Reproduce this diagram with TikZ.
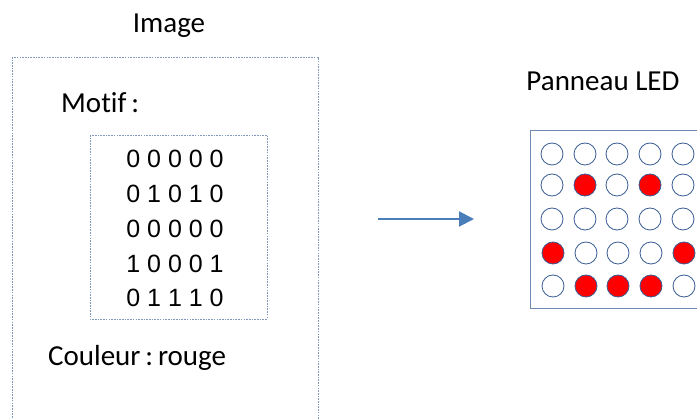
\documentclass[tikz,border=0pt]{standalone}
\usepackage{fontspec}
\usetikzlibrary{arrows.meta}
\setmainfont[Ligatures={NoCommon}]{Carlito}
\newfontfamily\digitfont{Liberation Sans}
\definecolor{boxblue}{HTML}{7F98BC}
\definecolor{arrowblue}{HTML}{4A7EBB}
\definecolor{panelblue}{HTML}{6F89B2}
\definecolor{ledline}{HTML}{3A5C93}
\definecolor{ledred}{HTML}{FF0000}
\begin{document}
\begin{tikzpicture}[x=1pt,y=-1pt,
  label/.style={inner sep=0pt, font=\fontsize{29}{34}\selectfont},
  digits/.style={inner sep=0pt, font=\digitfont\fontsize{25}{30}\selectfont},
  dotbox/.style={draw=boxblue, line width=0.9pt, dash pattern=on 1.6pt off 1.1pt},
  ledoff/.style={circle, draw=ledline, line width=0.8pt, fill=white, minimum size=22pt, inner sep=0pt},
  ledon/.style={circle, draw=ledline, line width=0.8pt, fill=ledred, minimum size=22pt, inner sep=0pt},
  conn/.style={draw=arrowblue, line width=2pt, -{Triangle[length=15pt,width=15pt]}}]
\useasboundingbox (0,0) rectangle (697,419);
\clip (0,0) rectangle (697,419);
\fill[white] (0,0) rectangle (697,419);
% Image block
\node[label] (imgtitle) at (169,26) {Image};
\draw[dotbox] (12,57) rectangle (318,440);
\node[label, anchor=west] (motif) at (61,103) {Motif\,:};
\draw[dotbox] (90,135) rectangle (267,319);
\node[digits] (r1) at (175,159) {0 0 0 0 0};
\node[digits] (r2) at (175,194) {0 1 0 1 0};
\node[digits] (r3) at (175,229) {0 0 0 0 0};
\node[digits] (r4) at (175,264) {1 0 0 0 1};
\node[digits] (r5) at (175,298) {0 1 1 1 0};
\node[label, anchor=west] (couleur) at (48,358) {Couleur\,:\,rouge};
% Arrow
\coordinate (astart) at (378,219);
\coordinate (aend) at (474,219);
\draw[conn] (astart) -- (aend);
% LED panel
\node[label] (paneltitle) at (603,81) {Panneau LED};
\draw[draw=panelblue, line width=1pt] (530,131) rectangle (720,309);
% row 1
\node[ledoff] (l11) at (552,154) {};
\node[ledoff] (l12) at (585,154) {};
\node[ledoff] (l13) at (617,154) {};
\node[ledoff] (l14) at (650,154) {};
\node[ledoff] (l15) at (683,154) {};
% row 2
\node[ledoff] (l21) at (552,185) {};
\node[ledon]  (l22) at (585,185) {};
\node[ledoff] (l23) at (617,185) {};
\node[ledon]  (l24) at (650,185) {};
\node[ledoff] (l25) at (683,185) {};
% row 3
\node[ledoff] (l31) at (552,219) {};
\node[ledoff] (l32) at (585,219) {};
\node[ledoff] (l33) at (617,219) {};
\node[ledoff] (l34) at (650,219) {};
\node[ledoff] (l35) at (683,219) {};
% row 4
\node[ledon]  (l41) at (553,253) {};
\node[ledoff] (l42) at (586,253) {};
\node[ledoff] (l43) at (618,253) {};
\node[ledoff] (l44) at (651,253) {};
\node[ledon]  (l45) at (684,253) {};
% row 5
\node[ledoff] (l51) at (553,286) {};
\node[ledon]  (l52) at (586,286) {};
\node[ledon]  (l53) at (618,286) {};
\node[ledon]  (l54) at (651,286) {};
\node[ledoff] (l55) at (684,286) {};
\end{tikzpicture}
\end{document}
